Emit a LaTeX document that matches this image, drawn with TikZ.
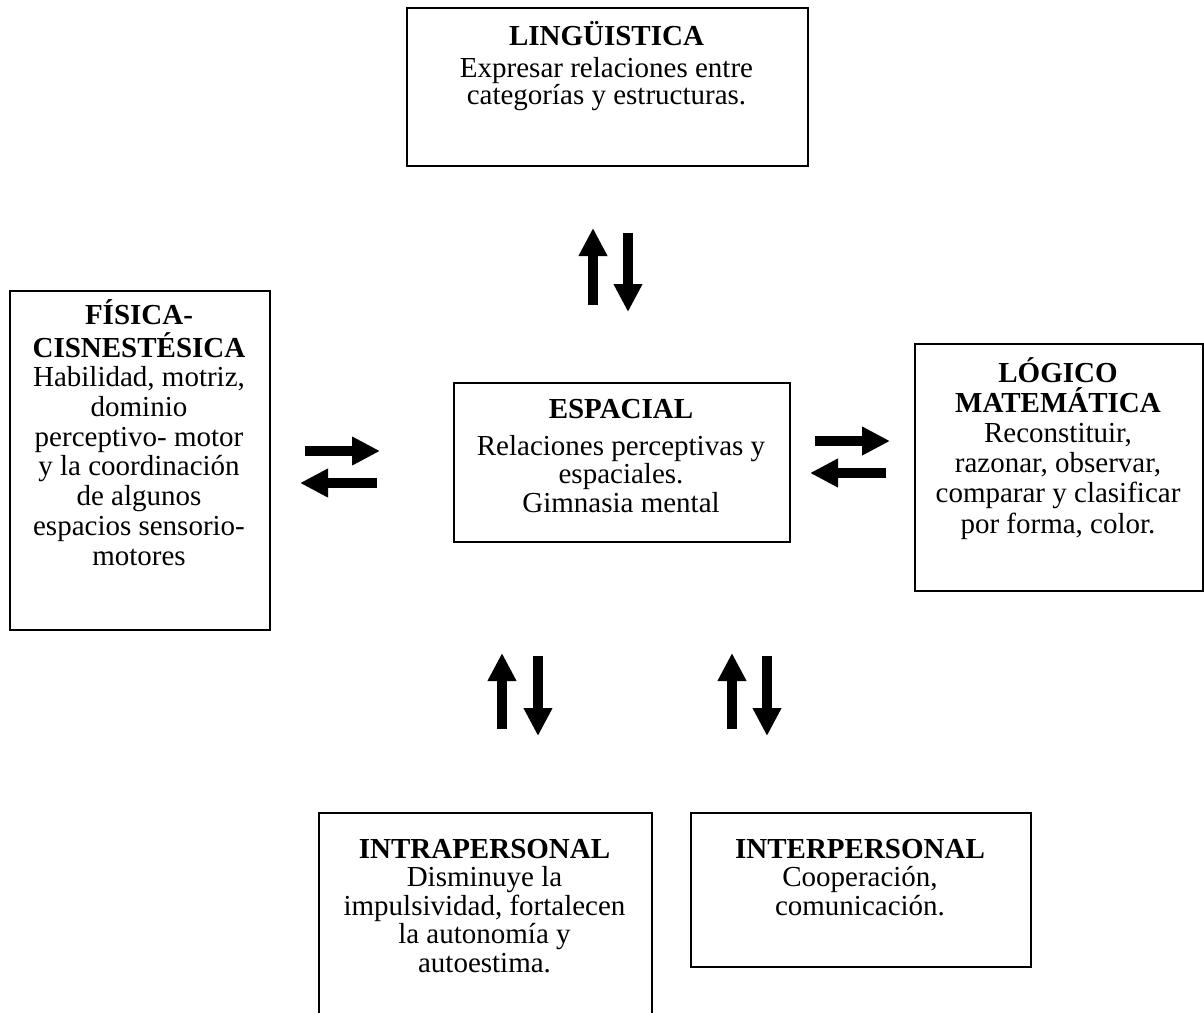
\documentclass[tikz,border=0pt]{standalone}
\usepackage{fontspec}
\setmainfont{Liberation Serif}
\usetikzlibrary{arrows.meta}
\tikzset{
  box/.style={draw, line width=2pt, inner sep=0pt},
  txt/.style={align=center, inner sep=0pt, anchor=base},
  bigarrow/.style={line width=10pt, -{Triangle[width=27pt,length=28pt]}}
}
\newcommand{\fsz}[1]{\fontsize{29}{#1}\selectfont}
\begin{document}
\begin{tikzpicture}[x=1pt,y=-1pt]
\path[use as bounding box, clip] (0,0) rectangle (1204,1012);
\fill[white] (0,0) rectangle (1204,1012);

% boxes
\node[box, minimum width=401pt, minimum height=158pt, anchor=north west] (ling) at (406,7) {};
\node[box, minimum width=260pt, minimum height=339pt, anchor=north west] (fis) at (9,290) {};
\node[box, minimum width=336pt, minimum height=159pt, anchor=north west] (esp) at (453,382) {};
\node[box, minimum width=288pt, minimum height=247pt, anchor=north west] (log) at (914,343) {};
\node[box, minimum width=333pt, minimum height=230pt, anchor=north west] (intra) at (318,812) {};
\node[box, minimum width=340pt, minimum height=154pt, anchor=north west] (inter) at (690,812) {};

% texts (anchored at the baseline of the last line)
\node[txt, font=\fsz{27}] (lingt) at (606.5,104) {\textbf{LINGÜISTICA}\\[5pt] Expresar relaciones entre\\ categorías y estructuras.};
\node[txt, font=\fsz{29.7}] (fist) at (139,565) {\textbf{FÍSICA-}\\[3pt] \textbf{CISNESTÉSICA}\\ Habilidad, motriz,\\ dominio\\ perceptivo- motor\\ y la coordinación\\ de algunos\\ espacios sensorio-\\ motores};
\node[txt, font=\fsz{28.5}] (espt) at (621,512) {\textbf{ESPACIAL}\\[8.5pt] Relaciones perceptivas y\\ espaciales.\\ Gimnasia mental};
\node[txt, font=\fsz{30.2}] (logt) at (1058,533) {\textbf{LÓGICO}\\ \textbf{MATEMÁTICA}\\ Reconstituir,\\ razonar, observar,\\ comparar y clasificar\\ por forma, color.};
\node[txt, font=\fsz{28.5}] (intrat) at (484.5,972) {\textbf{INTRAPERSONAL}\\ Disminuye la\\ impulsividad, fortalecen\\ la autonomía y\\ autoestima.};
\node[txt, font=\fsz{28.5}] (intert) at (860,915) {\textbf{INTERPERSONAL}\\ Cooperación,\\ comunicación.};

% arrow end points
\coordinate (a1s) at (593,305); \coordinate (a1e) at (593,228);
\coordinate (a2s) at (628,233); \coordinate (a2e) at (628,312);
\coordinate (b1s) at (305,451); \coordinate (b1e) at (380,451);
\coordinate (b2s) at (377,483); \coordinate (b2e) at (300,483);
\coordinate (c1s) at (815,441); \coordinate (c1e) at (890,441);
\coordinate (c2s) at (886,473); \coordinate (c2e) at (810,473);
\coordinate (d1s) at (502,729); \coordinate (d1e) at (502,653);
\coordinate (d2s) at (538,656); \coordinate (d2e) at (538,736);
\coordinate (e1s) at (732,729); \coordinate (e1e) at (732,653);
\coordinate (e2s) at (767,656); \coordinate (e2e) at (767,736);

\draw[bigarrow] (a1s) -- (a1e);
\draw[bigarrow] (a2s) -- (a2e);
\draw[bigarrow] (b1s) -- (b1e);
\draw[bigarrow] (b2s) -- (b2e);
\draw[bigarrow] (c1s) -- (c1e);
\draw[bigarrow] (c2s) -- (c2e);
\draw[bigarrow] (d1s) -- (d1e);
\draw[bigarrow] (d2s) -- (d2e);
\draw[bigarrow] (e1s) -- (e1e);
\draw[bigarrow] (e2s) -- (e2e);
\end{tikzpicture}
\end{document}
